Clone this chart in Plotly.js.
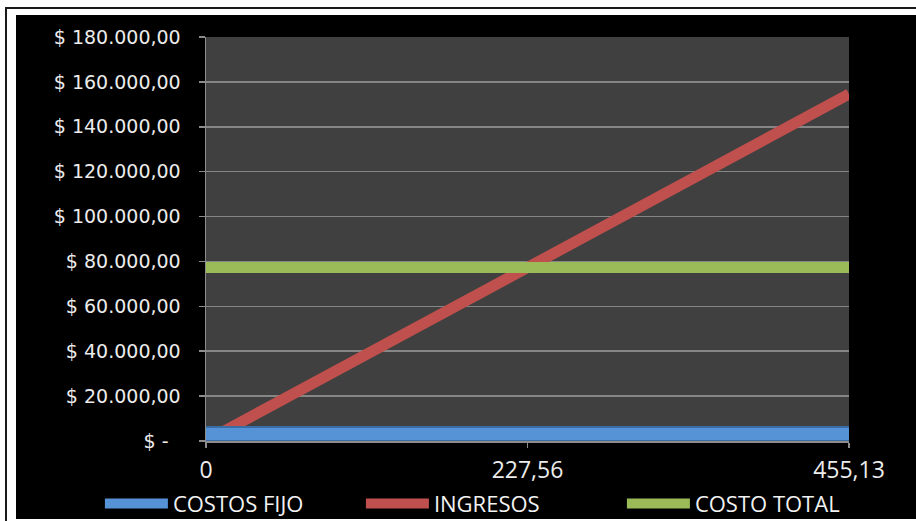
<!DOCTYPE html>
<html>
<head>
<meta charset="utf-8">
<script src="https://cdn.plot.ly/plotly-3.0.1.min.js"></script>
<style>
  html, body { margin: 0; padding: 0; background: #ffffff; width: 916px; height: 521px; overflow: hidden; }
  #frame { position: absolute; left: 5px; top: 7px; width: 920px; height: 513px; border-top: 2px solid #1a1a1a; border-left: 2px solid #1a1a1a; border-bottom: 1px solid #888; }
  #chart { position: absolute; left: 16px; top: 15px; width: 900px; height: 504px; }
</style>
</head>
<body>
<div id="frame"></div>
<div id="chart"></div>
<script>
// ---- data ----
const xValues = [0, 227.56, 455.13];
const xTickText = ['0', '227,56', '455,13'];
const costosFijo = [3100, 3100, 3100];
const ingresos = [0, 77280, 154560];
const costoTotal = [77300, 77300, 77300];
const seriesNames = ['COSTOS FIJO', 'INGRESOS', 'COSTO TOTAL'];
const yTickVals = [0, 20000, 40000, 60000, 80000, 100000, 120000, 140000, 160000, 180000];
const yTickText = ['$ -\u00a0\u00a0', '$ 20.000,00', '$ 40.000,00', '$ 60.000,00', '$ 80.000,00',
                   '$ 100.000,00', '$ 120.000,00', '$ 140.000,00', '$ 160.000,00', '$ 180.000,00'];

const traces = [
  { x: xValues, y: ingresos, name: seriesNames[1], type: 'scatter', mode: 'lines',
    line: { color: '#c0504d', width: 11 }, legendrank: 2, hoverinfo: 'skip' },
  { x: xValues, y: costoTotal, name: seriesNames[2], type: 'scatter', mode: 'lines',
    line: { color: '#9bbb59', width: 11 }, legendrank: 3, hoverinfo: 'skip' },
  { x: xValues, y: costosFijo, name: seriesNames[0] + ' borde', type: 'scatter', mode: 'lines',
    line: { color: '#3a6ca6', width: 16 }, showlegend: false, hoverinfo: 'skip' },
  { x: xValues, y: costosFijo, name: seriesNames[0], type: 'scatter', mode: 'lines',
    line: { color: '#5592d6', width: 12 }, legendrank: 1, hoverinfo: 'skip' }
];

const layout = {
  width: 900, height: 504,
  margin: { l: 190, r: 67, t: 22, b: 78, pad: 0, autoexpand: false },
  paper_bgcolor: '#000000',
  plot_bgcolor: '#404040',
  showlegend: true,
  xaxis: {
    range: [0, 455.13],
    tickvals: xValues, ticktext: xTickText,
    showgrid: false, zeroline: false,
    showline: true, linecolor: '#8c8c8c', linewidth: 1.5,
    ticks: 'outside', ticklen: 5, tickcolor: '#8c8c8c', tickwidth: 1.5,
    ticklabelstandoff: 3,
    automargin: false,
    tickfont: { family: 'Open Sans', size: 23, color: '#ececec' },
    fixedrange: true
  },
  yaxis: {
    range: [0, 180000],
    tickvals: yTickVals, ticktext: yTickText,
    showgrid: true, gridcolor: '#868686', gridwidth: 1.5,
    zeroline: false,
    showline: true, linecolor: '#8c8c8c', linewidth: 1.5,
    ticks: 'outside', ticklen: 6, tickcolor: '#8c8c8c', tickwidth: 1.5,
    ticklabelstandoff: 14,
    automargin: false,
    tickfont: { family: 'DejaVu Sans', size: 19, color: '#ececec' },
    fixedrange: true
  },
  legend: {
    orientation: 'h',
    x: -0.165, xanchor: 'left',
    y: -0.155, yanchor: 'middle',
    itemwidth: 63,
    entrywidth: 183,
    bgcolor: 'rgba(0,0,0,0)',
    font: { family: 'Open Sans', size: 22, color: '#f2f2f2' }
  }
};

Plotly.newPlot('chart', traces, layout, { staticPlot: true, displayModeBar: false });
</script>
</body>
</html>
